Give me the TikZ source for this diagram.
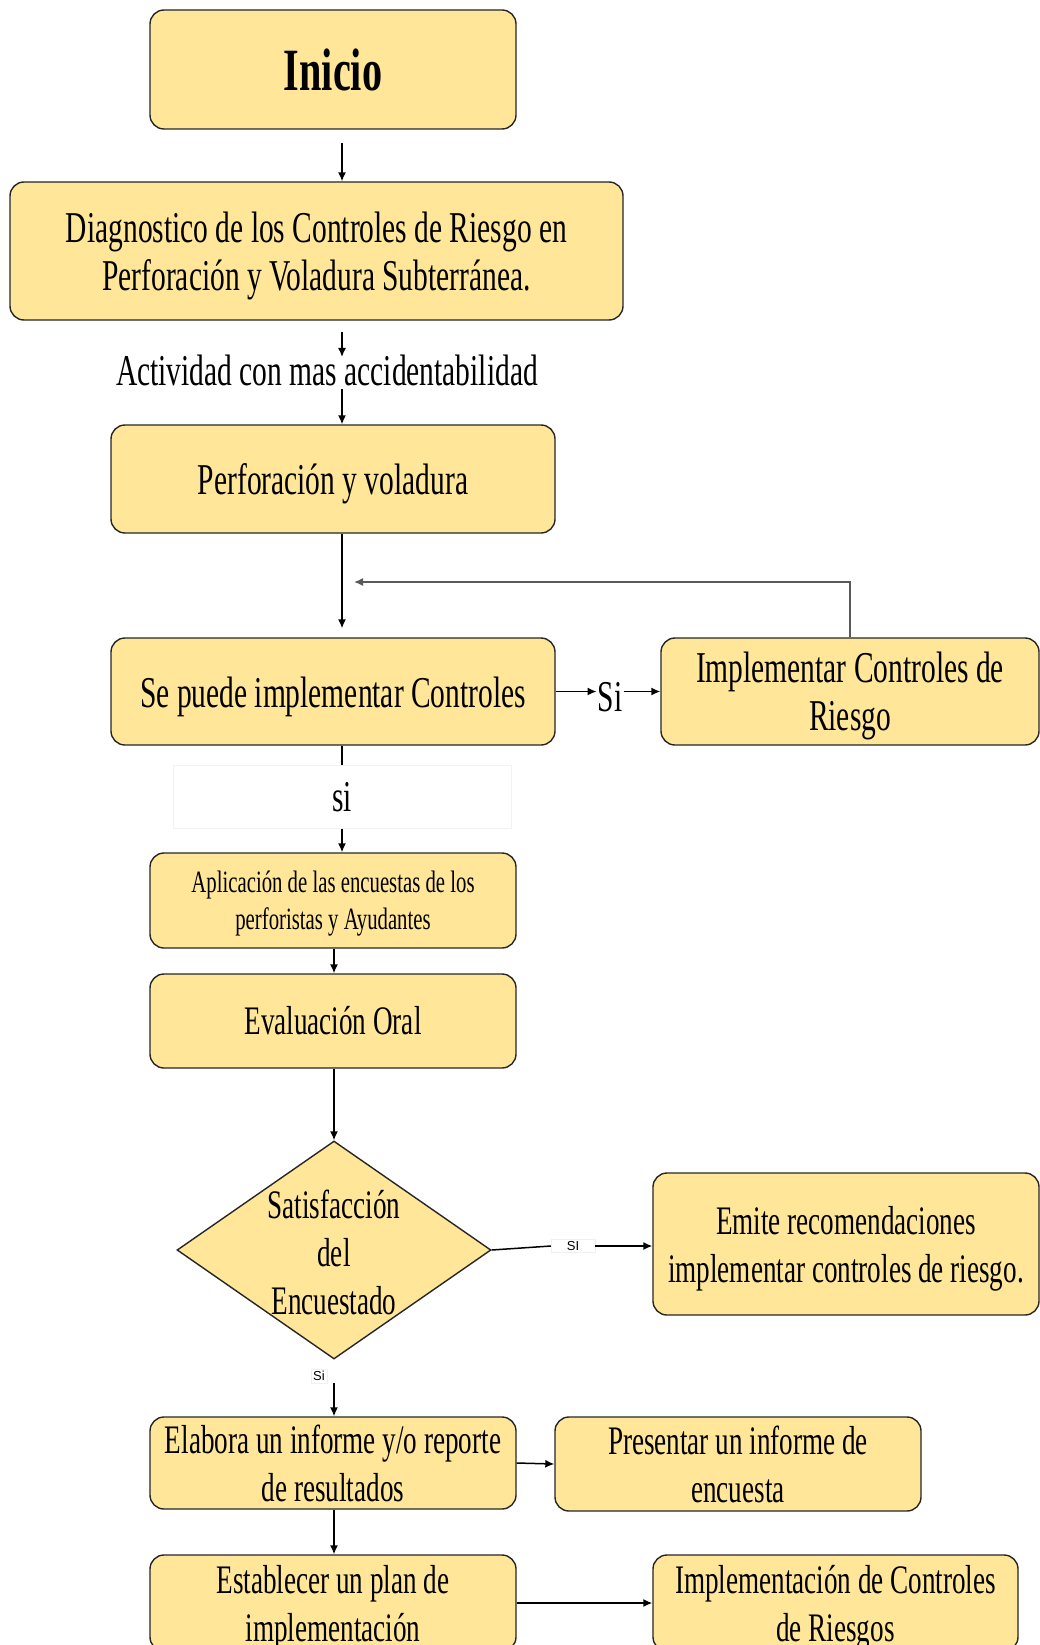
\documentclass[tikz,border=0pt]{standalone}
\usepackage{fontspec}
\setmainfont[FakeStretch=0.67]{Liberation Serif}
\setsansfont{Liberation Sans}
\usetikzlibrary{shapes.geometric,arrows.meta}
\definecolor{amar}{HTML}{FFE699}
\newcommand{\alto}{\rule{0pt}{0.92em}}

\begin{document}
\begin{tikzpicture}[x=1pt,y=-1pt,
  bx/.style={draw=black!85,line width=1.4pt,fill=amar,rounded corners=14pt,align=center,inner sep=0pt,font=\fontsize{44}{48}\selectfont},
  menor/.style={font=\fontsize{40.5}{48}\selectfont},
  dec/.style={diamond,draw=black!85,line width=1.4pt,fill=amar,minimum width=314pt,minimum height=218pt,inner sep=0pt},
  txt/.style={align=center,font=\fontsize{44}{48}\selectfont},
  lab/.style={fill=white,draw=black!6,inner sep=2pt,font=\sffamily\fontsize{13}{15}\selectfont},
  arr/.style={-{Latex[length=9pt,width=8pt]},line width=1.5pt}]
\useasboundingbox (0,0) rectangle (1040,1645);
\coordinate (colA) at (342,0);
\coordinate (colB) at (334,0);
\coordinate (ret) at (354,582);
% cajas
\node[bx,minimum width=366pt,minimum height=119pt,font=\bfseries\fontsize{60}{66}\selectfont] (inicio) at (333,69.5) {Inicio};
\node[bx,minimum width=613pt,minimum height=138pt] (diag) at (316.5,251) {\alto Diagnostico de los Controles de Riesgo en\\Perforación y Voladura Subterránea.};
\node[txt] (activ) at (327,370) {Actividad con mas accidentabilidad};
\node[bx,minimum width=444pt,minimum height=108pt] (perf) at (333,479) {\alto Perforación y voladura};
\node[bx,minimum width=444pt,minimum height=107pt] (puede) at (333,691.5) {\alto Se puede implementar Controles};
\node[bx,minimum width=378pt,minimum height=107pt] (impl) at (850,691.5) {\alto Implementar Controles de\\Riesgo};
\node[txt,inner sep=1pt] (si1) at (610,697) {Si};
\node[txt,fill=white,draw=black!5,minimum width=338pt,minimum height=63pt] (si2) at (342,797) {si};
\node[bx,minimum width=366pt,minimum height=95pt,font=\fontsize{31}{37}\selectfont] (encu) at (333,900.5) {\alto Aplicación de las encuestas de los\\perforistas y Ayudantes};
\node[bx,menor,minimum width=366pt,minimum height=94pt] (eval) at (333,1021) {Evaluación Oral};
\node[dec] (satis) at (334,1250) {};
\node[txt,menor] (satistxt) at (334,1252) {Satisfacción\\del\\Encuestado};
\node[bx,menor,minimum width=386pt,minimum height=142pt] (emite) at (846,1244) {\alto Emite recomendaciones\\implementar controles de riesgo.};
\node[lab,minimum width=44pt] (si3) at (573,1246) {SI};
\node[lab] (si4) at (319,1376) {Si};
\node[bx,menor,minimum width=366pt,minimum height=92pt] (elab) at (333,1463) {Elabora un informe y/o reporte\\de resultados};
\node[bx,menor,minimum width=366pt,minimum height=94pt] (pres) at (738,1464) {Presentar un informe de\\encuesta};
\node[bx,menor,minimum width=366pt,minimum height=96pt] (estab) at (333,1603) {\alto Establecer un plan de\\implementación};
\node[bx,menor,minimum width=365pt,minimum height=96pt] (implc) at (835.5,1603) {\alto Implementación de Controles\\de Riesgos};
% flechas
\draw[arr,shorten <=13pt] (inicio.south -| colA) -- (diag.north -| colA);
\draw[arr,shorten <=11pt,shorten >=-6pt] (diag.south -| colA) -- (activ.north -| colA);
\draw[arr] (activ.south -| colA) -- (perf.north -| colA);
\draw[arr,shorten >=9pt] (perf.south -| colA) -- (puede.north -| colA);
\draw[arr] (puede.east) -- (puede.east -| si1.west);
\draw[arr] (si1.east |- impl.west) -- (impl.west);
\draw[arr,draw=black!65] (impl.north) |- (ret);
\draw[line width=1.5pt] (puede.south -| colA) -- (si2.north -| colA);
\draw[arr] (si2.south -| colA) -- (encu.north -| colA);
\draw[arr] (encu.south -| colB) -- (eval.north -| colB);
\draw[arr] (eval.south -| colB) -- (satis.north);
\draw[line width=1.5pt] (satis.east) -- (si3.west);
\draw[arr] (si3.east) -- (si3.east -| emite.west);
\draw[arr] (si4.south -| colB) -- (elab.north -| colB);
\draw[arr] (elab.east) -- (pres.west);
\draw[arr] (elab.south -| colB) -- (estab.north -| colB);
\draw[arr] (estab.east) -- (implc.west);
\end{tikzpicture}
\end{document}
